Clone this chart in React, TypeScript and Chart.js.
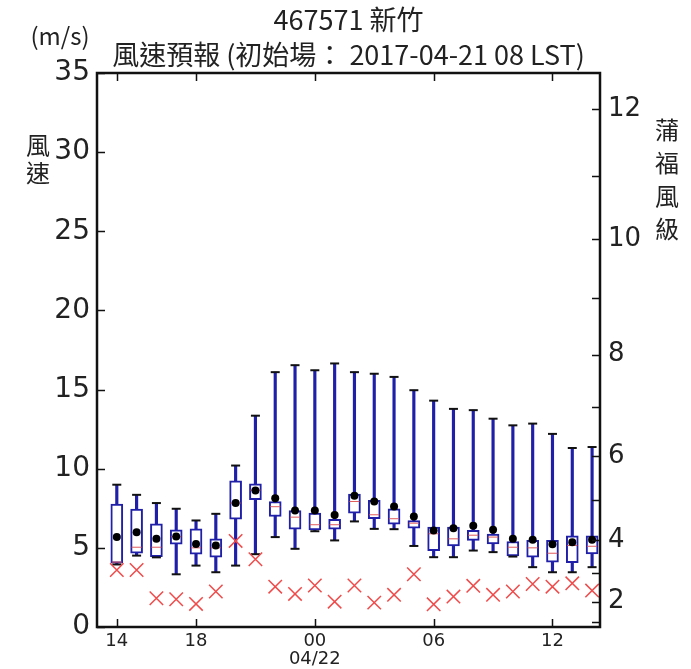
import React, { useEffect, useRef } from 'react';
import { Chart, registerables } from 'chart.js';

Chart.register(...registerables);

// Hours 14:00 (04/21) .. 14:00 (04/22)
const hourLabels = ['14','15','16','17','18','19','20','21','22','23','00','01','02','03','04','05','06','07','08','09','10','11','12','13','14'];
const xTickPositions = [0, 4, 10, 16, 22];
const xTickLabels = ['14', '18', '00', '06', '12'];
const yTicks = [0, 5, 10, 15, 20, 25, 30, 35];
// Beaufort lower bounds (m/s) for levels 1..12
const beaufortBounds = [0.3, 1.6, 3.4, 5.5, 8.0, 10.8, 13.9, 17.2, 20.8, 24.5, 28.5, 32.7];
const beaufortLevels = [1, 2, 3, 4, 5, 6, 7, 8, 9, 10, 11, 12];

const maxV = [8.99, 8.35, 7.83, 7.47, 6.73, 7.15, 10.2, 13.35, 16.1, 16.54, 16.22, 16.65, 16.1, 16.0, 15.8, 14.96, 14.3, 13.78, 13.7, 13.16, 12.74, 12.85, 12.2, 11.31, 11.37];
const q3V = [7.77, 7.45, 6.52, 6.14, 6.2, 5.57, 9.24, 9.05, 7.93, 7.36, 7.19, 6.81, 8.4, 8.0, 7.47, 6.73, 6.31, 6.31, 6.1, 5.87, 5.4, 5.47, 5.47, 5.76, 5.76];
const medianV = [4.1, 5.04, 5.04, 5.7, 5.0, 5.0, 7.83, 8.65, 7.6, 6.94, 6.46, 6.46, 7.93, 7.09, 6.84, 6.56, 5.89, 5.57, 5.8, 5.68, 5.04, 5.0, 4.66, 5.15, 5.1];
const q1V = [4.03, 4.66, 4.45, 5.23, 4.6, 4.41, 6.81, 8.04, 6.98, 6.18, 6.14, 6.18, 7.19, 6.84, 6.5, 6.24, 4.83, 5.12, 5.47, 5.25, 4.49, 4.41, 4.09, 4.07, 4.62];
const minV = [3.95, 4.51, 4.4, 3.33, 3.88, 3.46, 3.88, 4.6, 5.68, 4.94, 6.05, 5.47, 6.67, 6.2, 6.18, 5.12, 4.41, 4.41, 4.83, 4.73, 4.45, 3.78, 3.46, 3.46, 3.78];
const meanV = [5.68, 5.99, 5.57, 5.72, 5.25, 5.15, 7.83, 8.63, 8.14, 7.36, 7.36, 7.07, 8.29, 7.93, 7.62, 6.98, 6.1, 6.24, 6.39, 6.14, 5.57, 5.51, 5.23, 5.36, 5.51];
const obsV = [3.6, 3.6, 1.82, 1.75, 1.46, 2.24, 5.44, 4.28, 2.55, 2.09, 2.62, 1.6, 2.62, 1.54, 2.03, 3.33, 1.43, 1.92, 2.6, 2.03, 2.24, 2.72, 2.55, 2.76, 2.3];

const titleLine1 = '467571 新竹';
const titleLine2 = '風速預報 (初始場： 2017-04-21 08 LST)';
const unitLabel = '(m/s)';
const leftLabel = ['風', '速'];
const rightLabel = ['蒲', '福', '風', '級'];
const dateLabel = '04/22';

const BLUE = '#1f1fa8';
const CJK = '"Noto Sans CJK TC", "Noto Sans", sans-serif';
const NUM = '"DejaVu Sans", sans-serif';

const decorPlugin = {
  id: 'decor',
  afterDatasetsDraw(chart: any) {
    const { ctx, chartArea: a, scales } = chart;
    ctx.save();
    ctx.strokeStyle = '#111';
    ctx.lineWidth = 1.5;
    const L = 8;
    ctx.beginPath();
    yTicks.forEach((v) => {
      const y = Math.round(scales.y.getPixelForValue(v)) + 0.5;
      ctx.moveTo(a.left, y);
      ctx.lineTo(a.left + L, y);
    });
    beaufortBounds.forEach((v) => {
      const y = Math.round(scales.y2.getPixelForValue(v)) + 0.5;
      ctx.moveTo(a.right, y);
      ctx.lineTo(a.right - L, y);
    });
    xTickPositions.forEach((v) => {
      const x = Math.round(scales.x.getPixelForValue(v)) + 0.5;
      ctx.moveTo(x, a.bottom);
      ctx.lineTo(x, a.bottom - L);
      ctx.moveTo(x, a.top);
      ctx.lineTo(x, a.top + L);
    });
    ctx.stroke();
    ctx.lineWidth = 2.5;
    ctx.strokeRect(a.left, a.top, a.right - a.left, a.bottom - a.top);
    ctx.restore();
  },
  afterDraw(chart: any) {
    const { ctx, chartArea: a, scales } = chart;
    ctx.save();
    ctx.fillStyle = '#222';
    ctx.textAlign = 'center';
    ctx.textBaseline = 'middle';
    const cx = (a.left + a.right) / 2;
    ctx.font = `27px ${CJK}`;
    ctx.fillText(titleLine1, cx, 20);
    ctx.font = `27px ${CJK}`;
    ctx.fillText(titleLine2, cx, 55);
    ctx.font = `24px ${CJK}`;
    ctx.fillText(unitLabel, 60, 36);
    ctx.font = `24px ${CJK}`;
    leftLabel.forEach((c, i) => ctx.fillText(c, 38, 145 + i * 28));
    rightLabel.forEach((c, i) => ctx.fillText(c, 667, 130 + i * 33));
    ctx.font = `18px ${NUM}`;
    ctx.fillText(dateLabel, scales.x.getPixelForValue(10), 659);
    ctx.restore();
  },
};

export default function App() {
  const ref = useRef<HTMLCanvasElement>(null);
  useEffect(() => {
    document.body.style.margin = '0';
    const idx = hourLabels.map((_, i) => i);
    const chart = new Chart(ref.current as HTMLCanvasElement, {
      type: 'bar',
      data: {
        datasets: [
          {
            type: 'bar',
            label: 'whisker',
            data: idx.map((i) => ({ x: i, y: [minV[i], maxV[i]] })),
            backgroundColor: BLUE,
            borderWidth: 0,
            barThickness: 2.5,
            grouped: false,
            order: 6,
            yAxisID: 'y',
          } as any,
          {
            type: 'bar',
            label: 'box',
            data: idx.map((i) => ({ x: i, y: [q1V[i], q3V[i]] })),
            backgroundColor: '#ffffff',
            borderColor: BLUE,
            borderWidth: 2,
            borderSkipped: false,
            barThickness: 12,
            grouped: false,
            order: 5,
            yAxisID: 'y',
          } as any,
          {
            type: 'scatter',
            label: 'median',
            data: idx.map((i) => ({ x: i, y: medianV[i] })),
            pointStyle: 'line',
            pointRadius: 5,
            borderColor: '#e05a5a',
            borderWidth: 1,
            order: 4,
            yAxisID: 'y',
          } as any,
          {
            type: 'scatter',
            label: 'capHigh',
            data: idx.map((i) => ({ x: i, y: maxV[i] })),
            pointStyle: 'line',
            pointRadius: 4.5,
            borderColor: '#111',
            borderWidth: 2,
            order: 3,
            yAxisID: 'y',
          } as any,
          {
            type: 'scatter',
            label: 'capLow',
            data: idx.map((i) => ({ x: i, y: minV[i] })),
            pointStyle: 'line',
            pointRadius: 4.5,
            borderColor: '#111',
            borderWidth: 2,
            order: 3,
            yAxisID: 'y',
          } as any,
          {
            type: 'scatter',
            label: 'mean',
            data: idx.map((i) => ({ x: i, y: meanV[i] })),
            pointStyle: 'circle',
            pointRadius: 4,
            backgroundColor: '#000',
            borderWidth: 0,
            order: 2,
            yAxisID: 'y',
          } as any,
          {
            type: 'scatter',
            label: 'obs',
            data: idx.map((i) => ({ x: i, y: obsV[i] })),
            pointStyle: 'crossRot',
            pointRadius: 9.5,
            borderColor: '#f04a4a',
            borderWidth: 1.5,
            order: 1,
            yAxisID: 'y',
          } as any,
        ],
      },
      options: {
        animation: false,
        responsive: false,
        layout: { padding: { top: 73, left: 0, right: 0, bottom: 0 } },
        plugins: { legend: { display: false }, tooltip: { enabled: false }, title: { display: false } },
        scales: {
          x: {
            type: 'linear',
            offset: false,
            min: -1,
            max: 24.4,
            grid: { display: false, drawTicks: false, offset: false },
            border: { display: false },
            afterBuildTicks: (s: any) => {
              s.ticks = xTickPositions.map((v) => ({ value: v }));
            },
            afterFit: (s: any) => {
              s.height = 42;
            },
            ticks: {
              autoSkip: false,
              maxRotation: 0,
              padding: 4,
              color: '#222',
              font: { family: NUM, size: 18 },
              callback: (v: any) => {
                const k = xTickPositions.indexOf(Number(v));
                return k >= 0 ? xTickLabels[k] : '';
              },
            },
          },
          y: {
            type: 'linear',
            position: 'left',
            min: 0,
            max: 35,
            grid: { display: false, drawTicks: false },
            border: { display: false },
            afterBuildTicks: (s: any) => {
              s.ticks = yTicks.map((v) => ({ value: v }));
            },
            afterFit: (s: any) => {
              s.width = 97;
            },
            ticks: {
              padding: 7,
              color: '#222',
              font: { family: NUM, size: 28 },
            },
          },
          y2: {
            type: 'linear',
            position: 'right',
            min: 0,
            max: 35,
            grid: { display: false, drawTicks: false },
            border: { display: false },
            afterBuildTicks: (s: any) => {
              s.ticks = beaufortBounds.map((v) => ({ value: v }));
            },
            afterFit: (s: any) => {
              s.width = 91;
            },
            ticks: {
              autoSkip: false,
              padding: 8,
              color: '#222',
              font: { family: NUM, size: 26 },
              callback: (v: any) => {
                const k = beaufortBounds.indexOf(Number(v));
                const lvl = k >= 0 ? beaufortLevels[k] : 0;
                return lvl % 2 === 0 && lvl > 0 ? String(lvl) : '';
              },
            },
          },
        },
      } as any,
      plugins: [decorPlugin],
    });
    return () => chart.destroy();
  }, []);
  return (
    <div style={{ position: 'fixed', left: 0, top: 0, width: 691, height: 669, background: '#fff' }}>
      <canvas ref={ref} width={691} height={669} />
    </div>
  );
}
